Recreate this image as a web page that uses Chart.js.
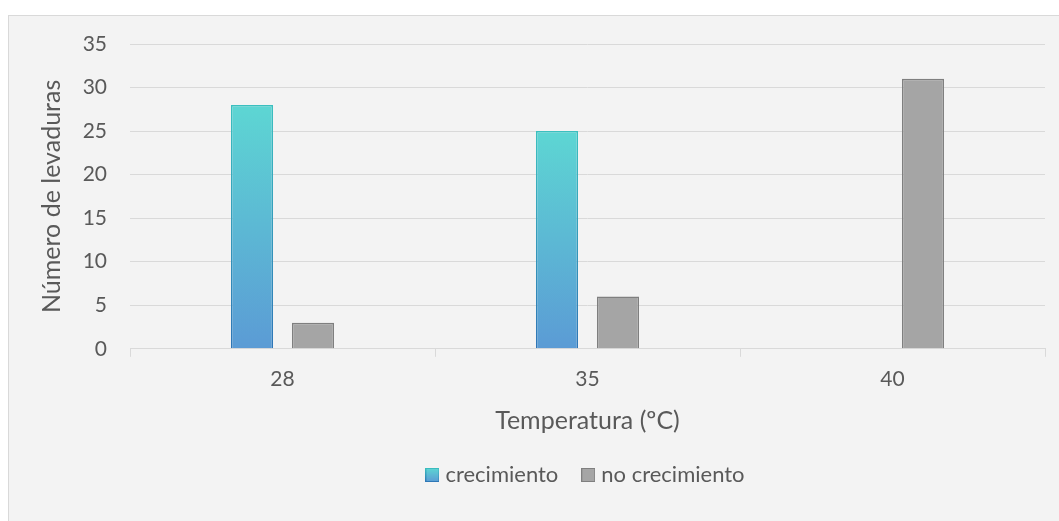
<!DOCTYPE html>
<html>
<head>
<meta charset="utf-8">
<script src="https://cdn.jsdelivr.net/npm/chart.js@4/dist/chart.umd.min.js"></script>
<style>
    body { margin: 0; background: #fff; }
    #wrap {
        position: absolute; left: 8px; top: 15px; width: 1051px; height: 506px;
        background: #f3f3f3; border-left: 1px solid #d9d9d9; border-top: 1px solid #d9d9d9;
        box-sizing: border-box;
    }
</style>
</head>
<body>
<div id="wrap"><canvas id="chart"></canvas></div>
<script>
// Temperaturas y recuento de levaduras
const categories = ['28', '35', '40'];
const crecimiento = [28, 25, 0];
const noCrecimiento = [3, 6, 31];
const yTicks = [0, 5, 10, 15, 20, 25, 30, 35];

const TEXT = '#595959';
const FONT = 'Lato';

// gradient per bar, teal at the top and blue at the bottom
function barGradient(context, top, bottom) {
    const chart = context.chart;
    if (!chart.chartArea) return top;
    const yScale = chart.scales.y;
    const v = context.parsed ? context.parsed.y : 0;
    const y0 = yScale.getPixelForValue(v);
    const y1 = yScale.getPixelForValue(0);
    const g = chart.ctx.createLinearGradient(0, y0, 0, y1 === y0 ? y0 + 1 : y1);
    g.addColorStop(0, top);
    g.addColorStop(1, bottom);
    return g;
}

function legendIcon(top, bottom, borderTop, borderBottom) {
    const c = document.createElement('canvas');
    c.width = 14; c.height = 14;
    const x = c.getContext('2d');
    const g = x.createLinearGradient(0, 0, 0, 14);
    g.addColorStop(0, top); g.addColorStop(1, bottom);
    const b = x.createLinearGradient(0, 0, 0, 14);
    b.addColorStop(0, borderTop); b.addColorStop(1, borderBottom);
    x.fillStyle = b;
    x.fillRect(0, 0, 14, 14);
    x.fillStyle = g;
    x.fillRect(1, 1, 12, 12);
    return c;
}

const iconCrec = legendIcon('#5dd6d3', '#5b9bd5', '#3bbfbf', '#2e75b6');
const iconNo = legendIcon('#a5a5a5', '#a5a5a5', '#7f7f7f', '#7f7f7f');

// Excel centres the legend under the plot area, not the whole chart
const centerLegend = {
    id: 'centerLegend',
    afterLayout(chart) {
        const lg = chart.legend, area = chart.chartArea;
        if (!lg || !area) return;
        const shift = (area.left + area.right) / 2 - (lg.left + lg.right) / 2;
        lg.left += shift;
        lg.right += shift;
        lg.adjustHitBoxes && lg.adjustHitBoxes();
    }
};

const ctx = document.getElementById('chart');
new Chart(ctx, {
    type: 'bar',
    data: {
        labels: categories,
        datasets: [{
            label: 'crecimiento',
            data: crecimiento,
            backgroundColor: c => barGradient(c, '#5dd6d3', '#5b9bd5'),
            borderColor: c => barGradient(c, '#3bbfbf', '#2e75b6'),
            borderWidth: 1.5,
            pointStyle: iconCrec
        }, {
            label: 'no crecimiento',
            data: noCrecimiento,
            backgroundColor: '#a5a5a5',
            borderColor: '#7f7f7f',
            borderWidth: 1.5,
            pointStyle: iconNo
        }]
    },
    options: {
        responsive: true,
        maintainAspectRatio: false,
        animation: false,
        categoryPercentage: 0.4,
        barPercentage: 0.69,
        layout: { padding: { left: 28, right: 14, top: 28, bottom: 25 } },
        plugins: {
            legend: {
                position: 'bottom',
                labels: {
                    usePointStyle: true,
                    boxHeight: 14,
                    pointStyleWidth: 4,
                    color: TEXT,
                    font: { family: FONT, size: 22 },
                    padding: 28
                }
            },
            tooltip: { enabled: false }
        },
        scales: {
            x: {
                grid: { display: true, drawOnChartArea: false, color: '#d9d9d9', tickLength: 8, offset: true },
                border: { color: '#d9d9d9' },
                ticks: { color: TEXT, font: { family: FONT, size: 21 }, padding: 10 },
                title: {
                    display: true, text: 'Temperatura (ºC)', color: TEXT,
                    font: { family: FONT, size: 25 }, padding: { top: 4, bottom: 0 }
                }
            },
            y: {
                min: 0, max: 35,
                afterBuildTicks: axis => { axis.ticks = yTicks.map(v => ({ value: v })); },
                afterFit: axis => { axis.width = 93; },
                grid: { color: '#d9d9d9', tickLength: 21, tickColor: 'rgba(0,0,0,0)' },
                border: { display: false },
                ticks: { color: TEXT, font: { family: FONT, size: 21 }, padding: 2 },
                title: {
                    display: true, text: 'Número de levaduras', color: TEXT,
                    font: { family: FONT, size: 25 }, padding: { top: 0, bottom: 0 }
                }
            }
        }
    },
    plugins: [centerLegend]
});
</script>
</body>
</html>
